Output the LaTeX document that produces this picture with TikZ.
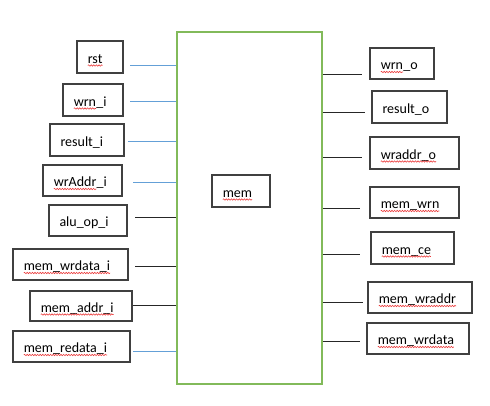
\documentclass[tikz,border=0pt]{standalone}
\usepackage{fontspec}
\setmainfont{Carlito}
\usetikzlibrary{decorations.pathmorphing}
\definecolor{grn}{RGB}{130,186,90}
\definecolor{lblue}{RGB}{100,160,215}
\definecolor{bdr}{RGB}{64,64,64}
\definecolor{sqr}{RGB}{235,60,60}
\newcommand\sqw[1]{\tikz[baseline=(w.base),x=1pt,y=1pt]{\node[draw=none,fill=none,inner sep=0pt,outer sep=0pt,text width=,text height=,text depth=,minimum width=0pt,minimum height=0pt,anchor=base](w){#1};\draw[sqr,line width=0.6pt,decorate,decoration={snake,amplitude=0.7pt,segment length=2.6pt}]([yshift=-2.5pt]w.base west)--([yshift=-2.5pt]w.base east);}}
\tikzset{
  pbox/.style={draw=bdr, line width=1.2pt, rectangle, inner xsep=10.5pt, inner ysep=0pt, align=left,
     text height=12pt, text depth=0pt, font=\fontsize{14}{16}\selectfont, text=black},
  bl/.style={draw=lblue, line width=1pt},
  bk/.style={draw=black!85, line width=1pt},
}
\begin{document}
\begin{tikzpicture}[x=1pt,y=-1pt]
\useasboundingbox (0,0) rectangle (490,405);
\node[draw=grn, line width=2pt, inner sep=0pt, minimum width=145pt, minimum height=352pt] (blk) at (249.5,208) {};
% left boxes
\node[pbox, text width=25pt, minimum height=32pt] (rst) at (100,57) {\sqw{rst}};
\node[pbox, text width=39pt, minimum height=32pt] (wrni) at (93,100) {\sqw{wrn}\_i};
\node[pbox, text width=53pt, minimum height=32pt] (resi) at (87,140) {result\_i};
\node[pbox, text width=58pt, minimum height=31pt] (wraddri) at (82.5,180.5) {\sqw{wrAddr}\_i};
\node[pbox, text width=57pt, minimum height=31pt] (aluopi) at (88,220.5) {alu\_op\_i};
\node[pbox, text width=94pt, minimum height=31pt] (memwrdatai) at (70.5,264.5) {\sqw{mem\_wrdata\_i}};
\node[pbox, text width=81pt, minimum height=30pt] (memaddri) at (81,306) {\sqw{mem\_addr\_i}};
\node[pbox, text width=96pt, minimum height=31pt] (memredatai) at (71.5,346.5) {\sqw{mem\_redata\_i}};
% right boxes
\node[pbox, text width=43pt, minimum height=31pt] (wrno) at (402,63.5) {\sqw{wrn}\_o};
\node[pbox, text width=54pt, minimum height=32pt] (reso) at (409.5,107) {result\_o};
\node[pbox, text width=68pt, minimum height=32pt] (wraddro) at (414.5,153) {\sqw{wraddr\_o}};
\node[pbox, text width=68pt, minimum height=31pt] (memwrn) at (414.5,202.5) {\sqw{mem\_wrn}};
\node[pbox, text width=62pt, minimum height=32pt] (memce) at (412.5,248) {\sqw{mem\_ce}};
\node[pbox, text width=83pt, minimum height=31pt] (memwraddr) at (420,297.5) {\sqw{mem\_wraddr}};
\node[pbox, text width=81pt, minimum height=31pt] (memwrdata) at (418,338.5) {\sqw{mem\_wrdata}};
% center label
\node[pbox, text width=37pt, minimum height=32pt] (mem) at (241,191) {\sqw{mem}};
% connector ends
\coordinate (c1) at (130,65);
\coordinate (c2) at (130,101);
\coordinate (c3) at (128,141);
\coordinate (c4) at (133,182);
\coordinate (c5) at (135,217);
\coordinate (c6) at (135,266);
\coordinate (c7) at (133,305);
\coordinate (c8) at (133,351);
\coordinate (d1) at (362,74);
\coordinate (d2) at (365,112);
\coordinate (d3) at (362,157);
\coordinate (d4) at (360,208);
\coordinate (d5) at (360,254);
\coordinate (d6) at (363,302);
\coordinate (d7) at (360,341);
\draw[bl] (c1) -- (c1 -| blk.west);
\draw[bl] (c2) -- (c2 -| blk.west);
\draw[bl] (c3) -- (c3 -| blk.west);
\draw[bl] (c4) -- (c4 -| blk.west);
\draw[bk] (c5) -- (c5 -| blk.west);
\draw[bk] (c6) -- (c6 -| blk.west);
\draw[bk] (c7) -- (c7 -| blk.west);
\draw[bl] (c8) -- (c8 -| blk.west);
\draw[bk] (d1 -| blk.east) -- (d1);
\draw[bk] (d2 -| blk.east) -- (d2);
\draw[bk] (d3 -| blk.east) -- (d3);
\draw[bk] (d4 -| blk.east) -- (d4);
\draw[bk] (d5 -| blk.east) -- (d5);
\draw[bk] (d6 -| blk.east) -- (d6);
\draw[bk] (d7 -| blk.east) -- (d7);
\end{tikzpicture}
\end{document}
